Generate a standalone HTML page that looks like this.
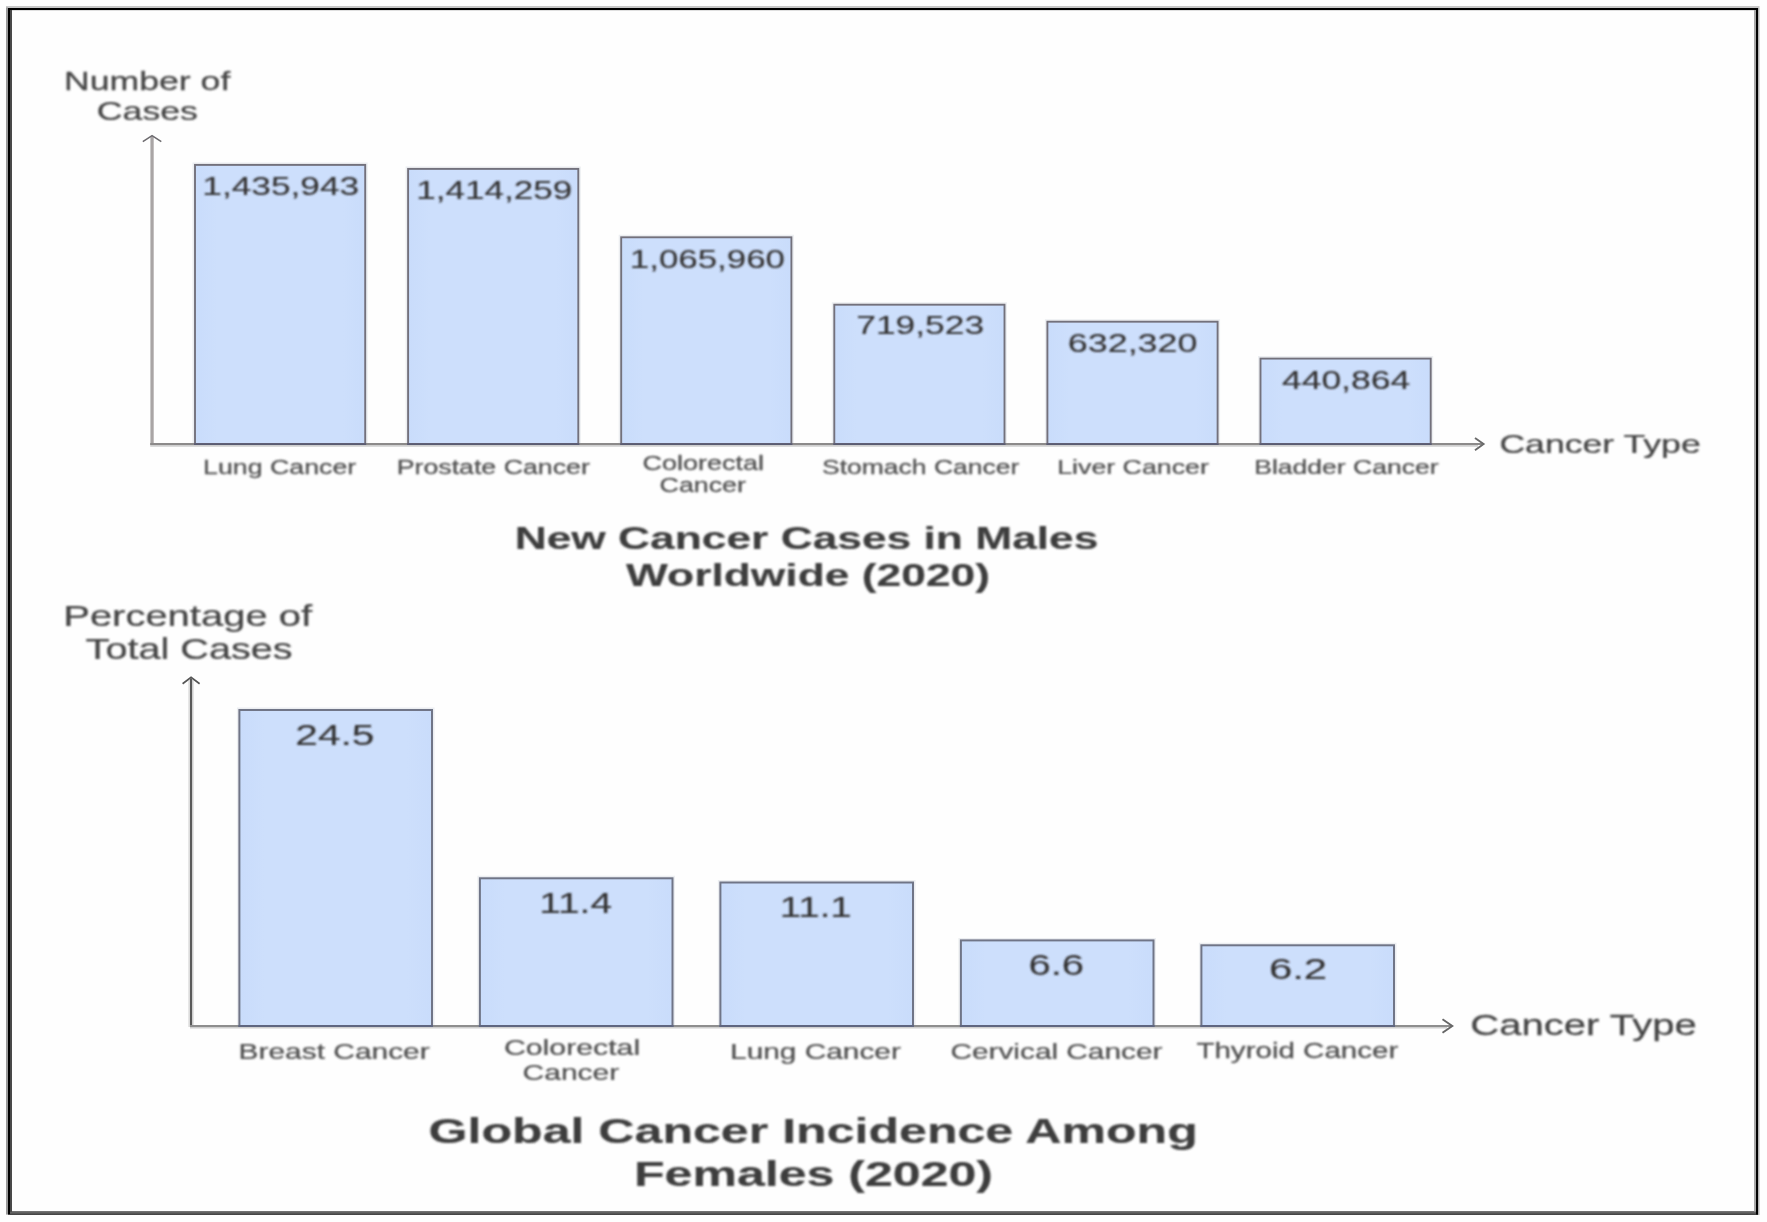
<!DOCTYPE html>
<html><head><meta charset="utf-8"><title>Cancer charts</title>
<style>
html,body{margin:0;padding:0;background:#fefefe;}
body{width:1767px;height:1222px;overflow:hidden;}
svg{display:block;font-family:"Liberation Sans",sans-serif;}
</style></head><body>
<svg width="1767" height="1222" viewBox="0 0 1767 1222">
<defs>
<filter id="blur" x="-2%" y="-2%" width="104%" height="104%"><feGaussianBlur stdDeviation="0.55"/></filter>
<filter id="blurt" x="-2%" y="-2%" width="104%" height="104%"><feGaussianBlur stdDeviation="0.8"/></filter>
<linearGradient id="bf" x1="0" y1="0" x2="1" y2="0"><stop offset="0" stop-color="#c9dcfb"/><stop offset="0.13" stop-color="#cddffc"/><stop offset="0.87" stop-color="#cddffc"/><stop offset="1" stop-color="#c9dcfb"/></linearGradient>
<linearGradient id="bot" x1="0" y1="0" x2="0" y2="1"><stop offset="0" stop-color="#7a7a7a"/><stop offset="1" stop-color="#3e3e3e"/></linearGradient>
</defs>
<rect x="0" y="0" width="1767" height="1222" fill="#fefefe"/>
<g filter="url(#blur)">
<!-- outer frame -->
<rect x="6" y="6" width="1753.5" height="2.1" fill="#c8c8c8"/>
<rect x="6" y="8" width="1753" height="2" fill="#050505"/>
<rect x="6" y="10" width="1752" height="0.8" fill="#d8d8d8"/>
<rect x="8" y="1211" width="1750" height="4" fill="url(#bot)"/>
<rect x="6" y="7.6" width="2" height="1207" fill="#9a9a9a"/>
<rect x="8" y="8" width="2" height="1206" fill="#000"/>
<rect x="10" y="10" width="2" height="1202" fill="#4a4848"/>
<rect x="1754" y="10" width="2.1" height="1201.5" fill="#a8a8a8"/>
<rect x="1756" y="8" width="2" height="1206.5" fill="#000"/>
<rect x="1758" y="8" width="1.5" height="1207" fill="#b4b4b4"/>

<path d="M195.0,443 V164.9 H365.2 V443" fill="none" stroke="#eceef1" stroke-width="5"/>
<path d="M408.1,443 V168.9 H578.3 V443" fill="none" stroke="#eceef1" stroke-width="5"/>
<path d="M621.2,443 V237.3 H791.4 V443" fill="none" stroke="#eceef1" stroke-width="5"/>
<path d="M834.3,443 V304.7 H1004.5 V443" fill="none" stroke="#eceef1" stroke-width="5"/>
<path d="M1047.4,443 V321.7 H1217.6 V443" fill="none" stroke="#eceef1" stroke-width="5"/>
<path d="M1260.5,443 V358.6 H1430.7 V443" fill="none" stroke="#eceef1" stroke-width="5"/>
<path d="M239.4,1025 V710 H432.0 V1025" fill="none" stroke="#eceef1" stroke-width="5"/>
<path d="M479.9,1025 V878.3 H672.5 V1025" fill="none" stroke="#eceef1" stroke-width="5"/>
<path d="M720.4,1025 V882.5 H913.0 V1025" fill="none" stroke="#eceef1" stroke-width="5"/>
<path d="M960.9,1025 V940.4 H1153.5 V1025" fill="none" stroke="#eceef1" stroke-width="5"/>
<path d="M1201.4,1025 V945.3 H1394.0 V1025" fill="none" stroke="#eceef1" stroke-width="5"/>
<path d="M152.05,445 V136.5" fill="none" stroke="#a9a5a5" stroke-width="3.3"/>
<path d="M142.8,141.6 L152.05,135.6 L161.3,141.6" fill="none" stroke="#6c6a6e" stroke-width="1.5"/>
<path d="M150.2,445.9 H1478" fill="none" stroke="#cfcfcf" stroke-width="1.6"/>
<path d="M150.2,444.05 H1482" fill="none" stroke="#8c8a8a" stroke-width="1.9"/>
<path d="M1475,437.9 L1483.6,444.05 L1475,450.3" fill="none" stroke="#6a6a6a" stroke-width="1.9"/>
<rect x="195.0" y="164.9" width="170.2" height="279.1" fill="url(#bf)" stroke="#73717c" stroke-width="1.9"/>
<path d="M194.1,444.1 H366.1" stroke="#5a5b72" stroke-width="1.9"/>
<rect x="408.1" y="168.9" width="170.2" height="275.1" fill="url(#bf)" stroke="#73717c" stroke-width="1.9"/>
<path d="M407.2,444.1 H579.2" stroke="#5a5b72" stroke-width="1.9"/>
<rect x="621.2" y="237.3" width="170.2" height="206.7" fill="url(#bf)" stroke="#73717c" stroke-width="1.9"/>
<path d="M620.3,444.1 H792.3" stroke="#5a5b72" stroke-width="1.9"/>
<rect x="834.3" y="304.7" width="170.2" height="139.3" fill="url(#bf)" stroke="#73717c" stroke-width="1.9"/>
<path d="M833.4,444.1 H1005.4" stroke="#5a5b72" stroke-width="1.9"/>
<rect x="1047.4" y="321.7" width="170.2" height="122.3" fill="url(#bf)" stroke="#73717c" stroke-width="1.9"/>
<path d="M1046.5,444.1 H1218.5" stroke="#5a5b72" stroke-width="1.9"/>
<rect x="1260.5" y="358.6" width="170.2" height="85.4" fill="url(#bf)" stroke="#73717c" stroke-width="1.9"/>
<path d="M1259.6,444.1 H1431.6" stroke="#5a5b72" stroke-width="1.9"/>
<path d="M191.05,1027 V680" fill="none" stroke="#dcdcdc" stroke-width="5.4"/>
<path d="M191.05,1027 V678.5" fill="none" stroke="#5a5a5a" stroke-width="2.1"/>
<path d="M182.6,683.8 L191.05,677.4 L199.6,683.8" fill="none" stroke="#555" stroke-width="1.7"/>
<path d="M190,1027.8 H1447" fill="none" stroke="#d0d0d0" stroke-width="1.6"/>
<path d="M190,1026.0 H1451" fill="none" stroke="#8e8e8e" stroke-width="1.9"/>
<path d="M1442.5,1019.3 L1452.3,1026.0 L1442.5,1032.8" fill="none" stroke="#666" stroke-width="1.9"/>
<rect x="239.4" y="710" width="192.6" height="316.0" fill="url(#bf)" stroke="#6f7587" stroke-width="2"/>
<path d="M238.4,1026.05 H433.0" stroke="#5f6680" stroke-width="1.9"/>
<rect x="479.9" y="878.3" width="192.6" height="147.7" fill="url(#bf)" stroke="#6f7587" stroke-width="2"/>
<path d="M478.9,1026.05 H673.5" stroke="#5f6680" stroke-width="1.9"/>
<rect x="720.4" y="882.5" width="192.6" height="143.5" fill="url(#bf)" stroke="#6f7587" stroke-width="2"/>
<path d="M719.4,1026.05 H914.0" stroke="#5f6680" stroke-width="1.9"/>
<rect x="960.9" y="940.4" width="192.6" height="85.6" fill="url(#bf)" stroke="#6f7587" stroke-width="2"/>
<path d="M959.9,1026.05 H1154.5" stroke="#5f6680" stroke-width="1.9"/>
<rect x="1201.4" y="945.3" width="192.6" height="80.7" fill="url(#bf)" stroke="#6f7587" stroke-width="2"/>
<path d="M1200.4,1026.05 H1395.0" stroke="#5f6680" stroke-width="1.9"/>
</g>
<g filter="url(#blurt)">
<text transform="translate(64.02,89.7) scale(1.3922,1)" font-size="25.6" fill="#444444" stroke="#444444" stroke-width="0.25">Number of</text>
<text transform="translate(96.81,120.0) scale(1.3937,1)" font-size="25.6" fill="#444444" stroke="#444444" stroke-width="0.25">Cases</text>
<text transform="translate(202.32,195.3) scale(1.3771,1)" font-size="25.6" fill="#333030" stroke="#333030" stroke-width="0.12">1,435,943</text>
<text transform="translate(416.23,199.0) scale(1.3691,1)" font-size="25.6" fill="#333030" stroke="#333030" stroke-width="0.12">1,414,259</text>
<text transform="translate(629.84,268.2) scale(1.3629,1)" font-size="25.6" fill="#333030" stroke="#333030" stroke-width="0.12">1,065,960</text>
<text transform="translate(856.22,334.3) scale(1.3825,1)" font-size="25.6" fill="#333030" stroke="#333030" stroke-width="0.12">719,523</text>
<text transform="translate(1067.80,352.3) scale(1.4023,1)" font-size="25.6" fill="#333030" stroke="#333030" stroke-width="0.12">632,320</text>
<text transform="translate(1281.90,388.5) scale(1.3871,1)" font-size="25.6" fill="#333030" stroke="#333030" stroke-width="0.12">440,864</text>
<text transform="translate(203.08,473.7) scale(1.3241,1)" font-size="20.2" fill="#4e4e4e" stroke="#4e4e4e" stroke-width="0.25">Lung Cancer</text>
<text transform="translate(396.68,473.7) scale(1.3242,1)" font-size="20.2" fill="#4e4e4e" stroke="#4e4e4e" stroke-width="0.25">Prostate Cancer</text>
<text transform="translate(642.56,470.2) scale(1.3356,1)" font-size="20.2" fill="#4e4e4e" stroke="#4e4e4e" stroke-width="0.25">Colorectal</text>
<text transform="translate(659.57,492.2) scale(1.3270,1)" font-size="20.2" fill="#4e4e4e" stroke="#4e4e4e" stroke-width="0.25">Cancer</text>
<text transform="translate(822.00,473.7) scale(1.3125,1)" font-size="20.2" fill="#4e4e4e" stroke="#4e4e4e" stroke-width="0.25">Stomach Cancer</text>
<text transform="translate(1057.17,473.7) scale(1.3252,1)" font-size="20.2" fill="#4e4e4e" stroke="#4e4e4e" stroke-width="0.25">Liver Cancer</text>
<text transform="translate(1254.19,473.7) scale(1.3136,1)" font-size="20.2" fill="#4e4e4e" stroke="#4e4e4e" stroke-width="0.25">Bladder Cancer</text>
<text transform="translate(1499.39,452.8) scale(1.4086,1)" font-size="25.3" fill="#444444" stroke="#444444" stroke-width="0.25">Cancer Type</text>
<text transform="translate(514.68,548.7) scale(1.4075,1)" font-size="31.5" font-weight="bold" fill="#3e3e3e" stroke="#3e3e3e" stroke-width="0.15">New Cancer Cases in Males</text>
<text transform="translate(626.00,586.4) scale(1.4086,1)" font-size="31.5" font-weight="bold" fill="#3e3e3e" stroke="#3e3e3e" stroke-width="0.15">Worldwide (2020)</text>
<text transform="translate(63.24,625.8) scale(1.3782,1)" font-size="29.0" fill="#444444" stroke="#444444" stroke-width="0.25">Percentage of</text>
<text transform="translate(85.60,659.4) scale(1.3668,1)" font-size="29.0" fill="#444444" stroke="#444444" stroke-width="0.25">Total Cases</text>
<text transform="translate(295.32,745.4) scale(1.3766,1)" font-size="29.5" fill="#333030" stroke="#333030" stroke-width="0.12">24.5</text>
<text transform="translate(539.26,912.7) scale(1.3177,1)" font-size="29.5" fill="#333030" stroke="#333030" stroke-width="0.12">11.4</text>
<text transform="translate(779.79,916.6) scale(1.3026,1)" font-size="29.5" fill="#333030" stroke="#333030" stroke-width="0.12">11.1</text>
<text transform="translate(1028.44,974.5) scale(1.3560,1)" font-size="29.5" fill="#333030" stroke="#333030" stroke-width="0.12">6.6</text>
<text transform="translate(1268.88,978.8) scale(1.4222,1)" font-size="29.5" fill="#333030" stroke="#333030" stroke-width="0.12">6.2</text>
<text transform="translate(238.58,1058.5) scale(1.3233,1)" font-size="22.6" fill="#4e4e4e" stroke="#4e4e4e" stroke-width="0.25">Breast Cancer</text>
<text transform="translate(503.96,1054.7) scale(1.3391,1)" font-size="22.6" fill="#4e4e4e" stroke="#4e4e4e" stroke-width="0.25">Colorectal</text>
<text transform="translate(522.57,1079.6) scale(1.3276,1)" font-size="22.6" fill="#4e4e4e" stroke="#4e4e4e" stroke-width="0.25">Cancer</text>
<text transform="translate(730.08,1058.5) scale(1.3201,1)" font-size="22.6" fill="#4e4e4e" stroke="#4e4e4e" stroke-width="0.25">Lung Cancer</text>
<text transform="translate(950.48,1058.5) scale(1.3184,1)" font-size="22.6" fill="#4e4e4e" stroke="#4e4e4e" stroke-width="0.25">Cervical Cancer</text>
<text transform="translate(1196.40,1058.2) scale(1.3071,1)" font-size="22.6" fill="#4e4e4e" stroke="#4e4e4e" stroke-width="0.25">Thyroid Cancer</text>
<text transform="translate(1470.22,1035.0) scale(1.3828,1)" font-size="29.0" fill="#444444" stroke="#444444" stroke-width="0.25">Cancer Type</text>
<text transform="translate(428.58,1143.4) scale(1.4196,1)" font-size="35.3" font-weight="bold" fill="#3e3e3e" stroke="#3e3e3e" stroke-width="0.15">Global Cancer Incidence Among</text>
<text transform="translate(633.96,1185.9) scale(1.4189,1)" font-size="35.3" font-weight="bold" fill="#3e3e3e" stroke="#3e3e3e" stroke-width="0.15">Females (2020)</text>
</g></svg></body></html>
